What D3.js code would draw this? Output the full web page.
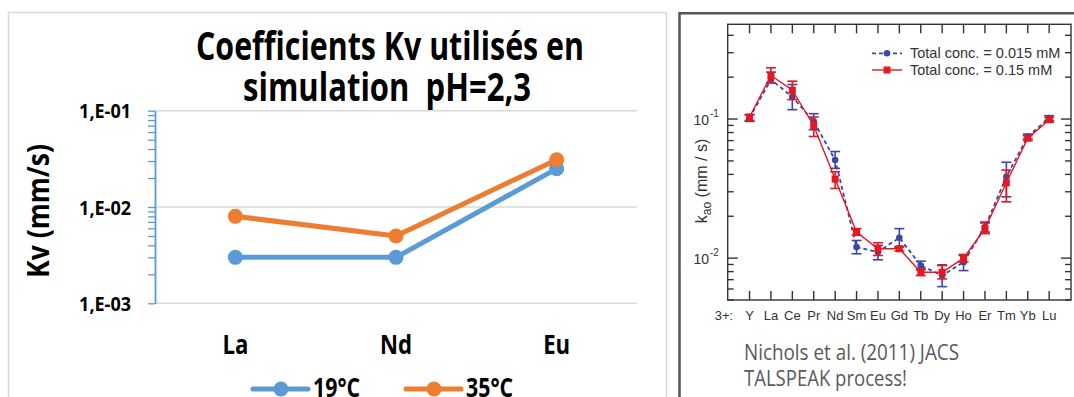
<!DOCTYPE html>
<html><head><meta charset="utf-8">
<script src="https://cdn.jsdelivr.net/npm/d3@7"></script>
<style>body{margin:0;background:#fff;} svg{display:block}</style>
</head><body>
<svg id="c" width="1074" height="397"></svg>
<script>
// ---------- Left chart data ----------
const categories = ["La", "Nd", "Eu"];
const kv19 = [0.003, 0.003, 0.025];
const kv35 = [0.008, 0.005, 0.031];
const seriesNames = ["19°C", "35°C"];
const yTickValues = [0.001, 0.01, 0.1];
const yTickLabels = ["1,E-03", "1,E-02", "1,E-01"];

// ---------- Right chart data ----------
const elements = ["Y","La","Ce","Pr","Nd","Sm","Eu","Gd","Tb","Dy","Ho","Er","Tm","Yb","Lu"];
const k015   = [0.1017,0.1924,0.1443,0.0962,0.0508,0.0120,0.01105,0.01403,0.00885,0.00749,0.00936,0.01675,0.0385,0.0749,0.1017];
const k015Hi = [0.1075,0.2175,0.177,0.1093,0.0584,0.0134,0.01236,0.0163,0.00951,0.00895,0.01045,0.0179,0.0489,0.0779,0.1057];
const k015Lo = [0.0962,0.182,0.1168,0.0838,0.0442,0.01075,0.00973,0.0120,0.00824,0.00624,0.00814,0.0154,0.0276,0.0721,0.0978];
const k15    = [0.1034,0.2057,0.1611,0.0895,0.0370,0.0154,0.01168,0.01168,0.00792,0.00792,0.0100,0.0163,0.0348,0.0729,0.0989];
const k15Hi  = [0.1075,0.2337,0.1872,0.1034,0.0418,0.0163,0.0129,0.01214,0.00837,0.00885,0.01063,0.0182,0.0430,0.0758,0.1028];
const k15Lo  = [0.0978,0.182,0.1379,0.0749,0.0317,0.0146,0.01045,0.01124,0.00749,0.00709,0.00936,0.0150,0.0254,0.0701,0.0951];
const legendNames = ["Total conc. = 0.015 mM", "Total conc. = 0.15 mM"];
const rTickMajor = [0.01, 0.1];
const captionLines = ["Nichols et al. (2011) JACS", "TALSPEAK process!"];

const svg = d3.select("#c");
function fitWidth(sel, w) { sel.attr("textLength", w).attr("lengthAdjust", "spacingAndGlyphs"); }
function squeeze(sel, f) {
  sel.each(function () { const w = this.getComputedTextLength(); d3.select(this).attr("textLength", w * f).attr("lengthAdjust", "spacingAndGlyphs"); });
}

// ================= LEFT PANEL =================
svg.append("rect").attr("x", 8.5).attr("y", 12.5).attr("width", 658).attr("height", 420)
  .attr("fill", "none").attr("stroke", "#d9d9d9").attr("stroke-width", 1.5);

const BOLD = "'Open Sans', 'Liberation Sans', sans-serif";
const L = { x0: 155, x1: 637, top: 110.7, bottom: 303.3 };
const xL = d3.scalePoint().domain(categories).range([L.x0, L.x1]).padding(0.5);
const yL = d3.scaleLog().domain([0.001, 0.1]).range([L.bottom, L.top]);

// title
const title = svg.append("g").attr("font-family", BOLD).attr("font-weight", 700).attr("font-size", 39).attr("fill", "#000")
  .attr("text-anchor", "middle").attr("xml:space", "preserve").style("white-space", "pre");
title.append("text").attr("x", 390).attr("y", 60).text("Coefficients Kv utilisés en").call(fitWidth, 388);
title.append("text").attr("x", 387).attr("y", 101).text("simulation\u00A0 pH=2,3").call(fitWidth, 288);

// gridlines
svg.append("g").selectAll("line").data(yTickValues).join("line")
  .attr("x1", L.x0).attr("x2", L.x1).attr("y1", d => yL(d)).attr("y2", d => yL(d))
  .attr("stroke", "#d9d9d9").attr("stroke-width", 1.5);

// y axis
const yAxisL = d3.axisLeft(yL).tickValues(yL.ticks()).tickSizeInner(7).tickSizeOuter(0).tickPadding(17)
  .tickFormat(d => { const i = yTickValues.findIndex(v => Math.abs(v - d) / v < 1e-6); return i >= 0 ? yTickLabels[i] : ""; });
const gyl = svg.append("g").attr("transform", `translate(${L.x0},0)`).call(yAxisL);
gyl.select(".domain").attr("stroke", "#5B9BD5").attr("stroke-width", 1.8);
gyl.selectAll(".tick line").attr("stroke", "#5B9BD5").attr("stroke-width", 1.3);
gyl.selectAll(".tick text").attr("font-family", BOLD).attr("font-weight", 700).attr("font-size", 20).attr("fill", "#000").attr("dy", "0.35em");
gyl.selectAll(".tick text").call(squeeze, 0.9);

// y title
svg.append("text").attr("transform", "translate(49,211) rotate(-90)").attr("text-anchor", "middle")
  .attr("font-family", BOLD).attr("font-weight", 700).attr("font-size", 30).text("Kv (mm/s)").call(fitWidth, 134);

// x labels
svg.append("g").selectAll("text").data(categories).join("text")
  .attr("x", d => xL(d)).attr("y", 354).attr("text-anchor", "middle")
  .attr("font-family", BOLD).attr("font-weight", 700).attr("font-size", 27).text(d => d)
  .call(squeeze, 0.82);

// series
const colorsL = ["#5B9BD5", "#ED7D31"];
[kv19, kv35].forEach((vals, si) => {
  const pts = categories.map((c, i) => [xL(c), yL(vals[i])]);
  svg.append("path").attr("d", d3.line()(pts)).attr("fill", "none").attr("stroke", colorsL[si])
    .attr("stroke-width", 5).attr("stroke-linejoin", "round").attr("stroke-linecap", "round");
  svg.append("g").selectAll("circle").data(pts).join("circle")
    .attr("cx", d => d[0]).attr("cy", d => d[1]).attr("r", 7.5).attr("fill", colorsL[si]);
});

// legend
const legX = [253, 406];
seriesNames.forEach((name, i) => {
  const g = svg.append("g");
  g.append("line").attr("x1", legX[i]).attr("x2", legX[i] + 55).attr("y1", 389).attr("y2", 389)
    .attr("stroke", colorsL[i]).attr("stroke-width", 5).attr("stroke-linecap", "round");
  g.append("circle").attr("cx", legX[i] + 28).attr("cy", 389).attr("r", 7.5).attr("fill", colorsL[i]);
  g.append("text").attr("x", legX[i] + 60).attr("y", 397).attr("font-family", BOLD).attr("font-weight", 700)
    .attr("font-size", 26).text(name).call(squeeze, 0.82);
});

// ================= RIGHT PANEL =================
svg.append("path").attr("d", "M679.5,400 V13.2 H1080").attr("fill", "none").attr("stroke", "#555").attr("stroke-width", 2.5);

const SANS = "'Liberation Sans', Arial, sans-serif";
const R = { x0: 727.7, x1: 1071, top: 24.3, bottom: 300 };
const xR = d3.scalePoint().domain(elements).range([R.x0, R.x1]).padding(1.02);
const yR = d3.scaleLog().domain([0.005, 0.48]).range([R.bottom, R.top]);
const ink = "#333";

svg.append("rect").attr("x", R.x0).attr("y", R.top).attr("width", R.x1 - R.x0).attr("height", R.bottom - R.top)
  .attr("fill", "none").attr("stroke", ink).attr("stroke-width", 1.4);

// x ticks top & bottom (inward)
const gx = svg.append("g").attr("stroke", ink).attr("stroke-width", 1.4);
elements.forEach(e => {
  gx.append("line").attr("x1", xR(e)).attr("x2", xR(e)).attr("y1", R.bottom).attr("y2", R.bottom - 9);
  gx.append("line").attr("x1", xR(e)).attr("x2", xR(e)).attr("y1", R.top).attr("y2", R.top + 9);
});
// y ticks left & right (inward)
yR.ticks().forEach(v => {
  const major = rTickMajor.some(m => Math.abs(m - v) / v < 1e-6);
  const len = major ? 10 : 6;
  gx.append("line").attr("x1", R.x0).attr("x2", R.x0 + len).attr("y1", yR(v)).attr("y2", yR(v));
  gx.append("line").attr("x1", R.x1).attr("x2", R.x1 - len).attr("y1", yR(v)).attr("y2", yR(v));
});
// y tick labels
rTickMajor.forEach(v => {
  svg.append("text").attr("x", 709).attr("y", yR(v) + 6).attr("text-anchor", "end")
    .attr("font-family", SANS).attr("font-size", 14).attr("fill", ink).text("10");
  svg.append("text").attr("x", 710).attr("y", yR(v) - 2).attr("font-family", SANS).attr("font-size", 10).attr("fill", ink)
    .text("-" + Math.round(-Math.log10(v)));
});
// y axis label
const yl = svg.append("text").attr("transform", "translate(707,181) rotate(-90)").attr("text-anchor", "middle")
  .attr("font-family", SANS).attr("font-size", 16).attr("fill", ink);
yl.append("tspan").text("k");
yl.append("tspan").attr("font-size", 12).attr("dy", 4).text("ao");
yl.append("tspan").attr("dy", -4).text(" (mm / s)");

// x labels
svg.append("text").attr("x", 724).attr("y", 320).attr("text-anchor", "middle").attr("font-family", SANS)
  .attr("font-size", 13).attr("fill", ink).text("3+:");
svg.append("g").selectAll("text").data(elements).join("text")
  .attr("x", d => xR(d)).attr("y", 320).attr("text-anchor", "middle").attr("font-family", SANS)
  .attr("font-size", 13).attr("fill", ink).text(d => d);

// series
const blue = "#3C46A8", red = "#E8161E";
function drawSeries(vals, lo, hi, color, dashed, marker) {
  const g = svg.append("g");
  const pts = elements.map((e, i) => [xR(e), yR(vals[i])]);
  g.append("path").attr("d", d3.line()(pts)).attr("fill", "none").attr("stroke", color)
    .attr("stroke-width", dashed ? 1.8 : 1.4).attr("stroke-dasharray", dashed ? "4,3" : null);
  elements.forEach((e, i) => {
    const x = xR(e), y1 = yR(lo[i]), y2 = yR(hi[i]);
    g.append("line").attr("x1", x).attr("x2", x).attr("y1", y1).attr("y2", y2).attr("stroke", color).attr("stroke-width", 1.6);
    [y1, y2].forEach(y => g.append("line").attr("x1", x - 5).attr("x2", x + 5).attr("y1", y).attr("y2", y).attr("stroke", color).attr("stroke-width", 1.6));
  });
  pts.forEach(p => {
    if (marker === "circle") g.append("circle").attr("cx", p[0]).attr("cy", p[1]).attr("r", 3.3).attr("fill", color);
    else g.append("rect").attr("x", p[0] - 3.5).attr("y", p[1] - 3.5).attr("width", 7).attr("height", 7).attr("fill", color);
  });
}
drawSeries(k015, k015Lo, k015Hi, blue, true, "circle");
drawSeries(k15, k15Lo, k15Hi, red, false, "square");

// legend
[[blue, true, "circle", 53.3], [red, false, "square", 70]].forEach(([c, dashed, m, y], i) => {
  svg.append("line").attr("x1", 872).attr("x2", 902).attr("y1", y).attr("y2", y).attr("stroke", c)
    .attr("stroke-width", dashed ? 1.8 : 1.4).attr("stroke-dasharray", dashed ? "4,3" : null);
  if (m === "circle") svg.append("circle").attr("cx", 887).attr("cy", y).attr("r", 3.3).attr("fill", c);
  else svg.append("rect").attr("x", 883.5).attr("y", y - 3.5).attr("width", 7).attr("height", 7).attr("fill", c);
  svg.append("text").attr("x", 910).attr("y", y + 5).attr("font-family", SANS).attr("font-size", 14.5).attr("fill", ink).text(legendNames[i]);
});

// caption
svg.append("g").attr("font-family", "'Open Sans', sans-serif").attr("font-size", 21).attr("fill", "#595959")
  .selectAll("text").data(captionLines).join("text")
  .attr("x", 744).attr("y", (d, i) => 360 + i * 26).text(d => d)
  .each(function (d, i) { d3.select(this).call(fitWidth, i === 0 ? 215 : 163); });
</script>
</body></html>
